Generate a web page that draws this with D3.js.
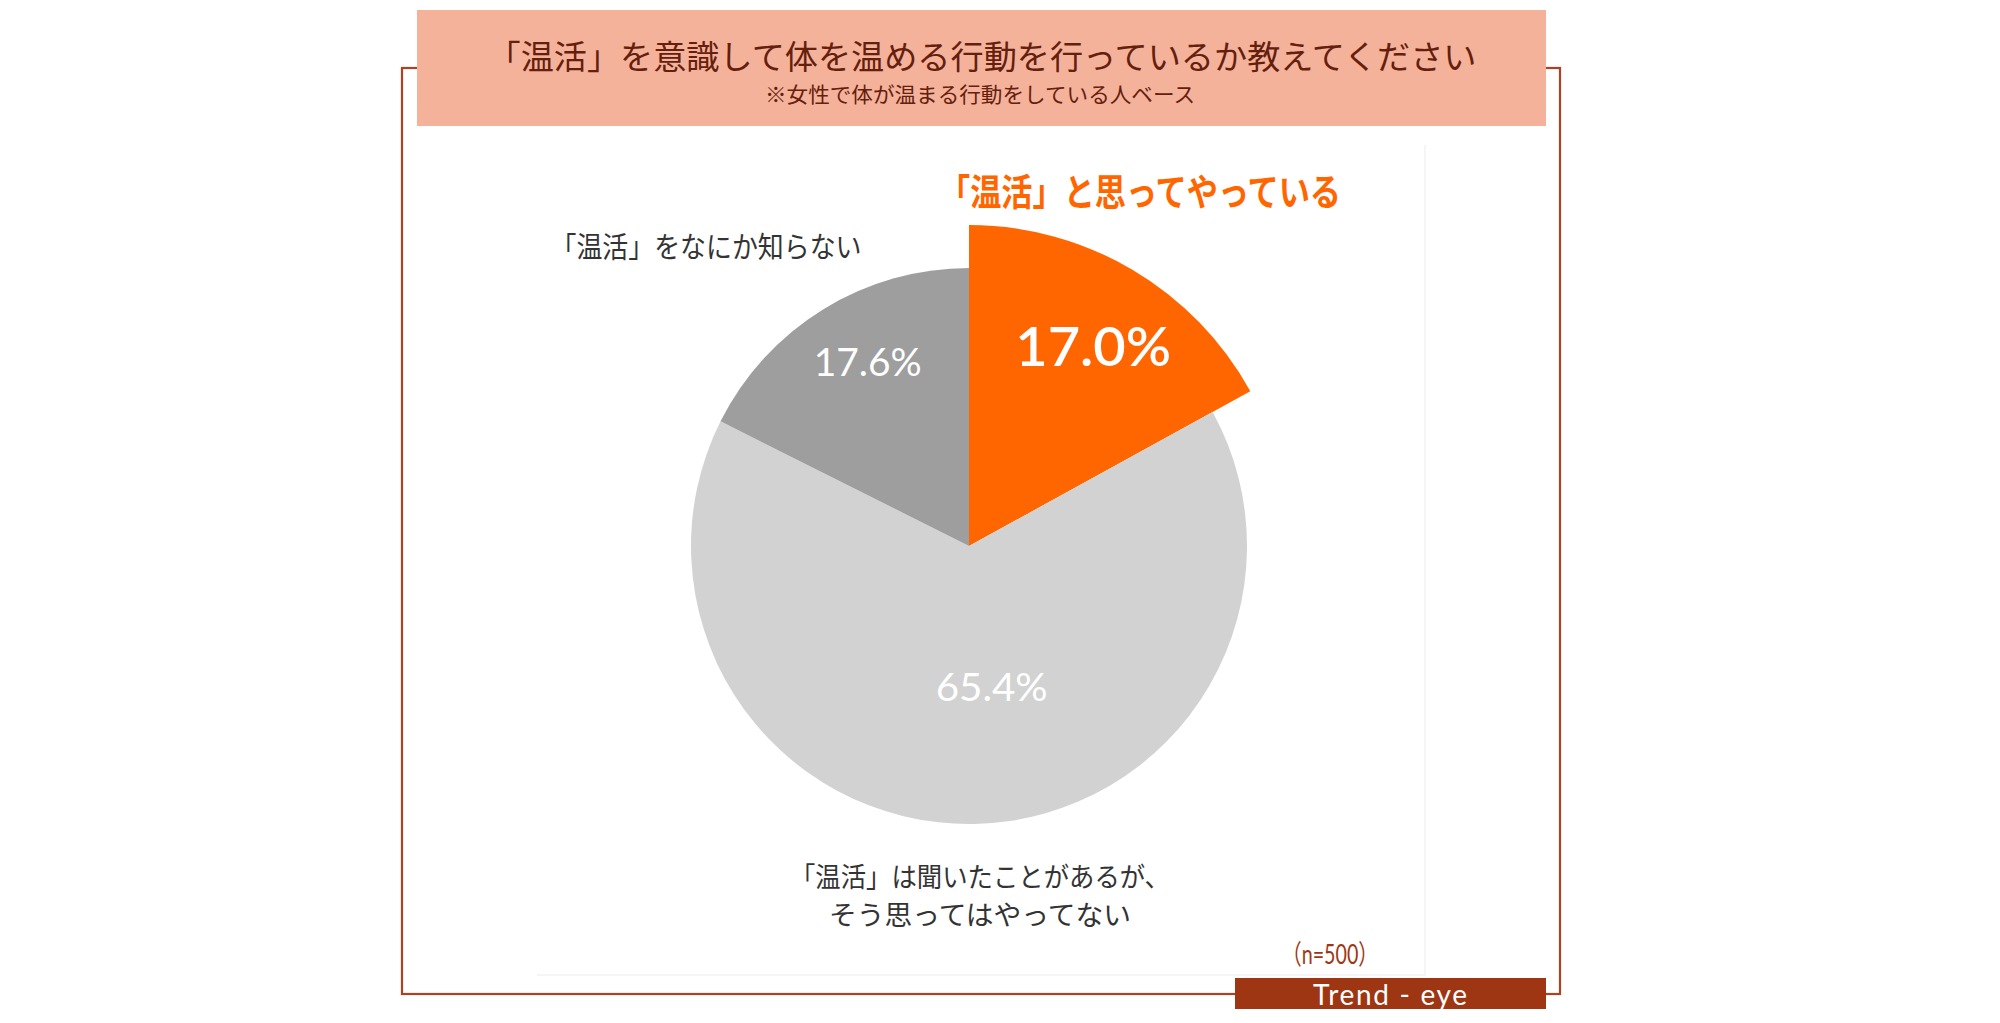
<!DOCTYPE html>
<html><head><meta charset="utf-8">
<script src="https://cdn.jsdelivr.net/npm/d3@7"></script>
<style>body{margin:0;background:#fff;overflow:hidden} svg{display:block}</style>
</head><body>
<script>
// ---- data ----
const categories = ["「温活」と思ってやっている", "「温活」は聞いたことがあるが、\nそう思ってはやってない", "「温活」をなにか知らない"];
const values = [17.0, 65.4, 17.6];
const valueLabels = ["17.0%", "65.4%", "17.6%"];
const colors = ["#ff6600", "#d2d2d2", "#9e9e9e"];
const titleText = "「温活」を意識して体を温める行動を行っているか教えてください";
const subtitleText = "※女性で体が温まる行動をしている人ベース";
const sampleNote = "（n=500）";
const brandText = "Trend - eye";

// ---- layout ----
const W = 2000, H = 1023;
const JP = "'Noto Sans CJK JP','Noto Sans',sans-serif";
const NUM = "Lato,'Noto Sans',sans-serif";
const svg = d3.select("body").append("svg").attr("width", W).attr("height", H);

// outer frame
svg.append("rect").attr("x", 402).attr("y", 68).attr("width", 1158).attr("height", 926)
  .attr("fill", "none").attr("stroke", "#ad4222").attr("stroke-width", 2.2);
// faint plot area
svg.append("path").attr("d", "M537,975H1425V145").attr("fill", "none").attr("stroke", "#f2f2f2").attr("stroke-width", 1.5);

// title box
svg.append("rect").attr("x", 417).attr("y", 10).attr("width", 1129).attr("height", 116).attr("fill", "#f4b29b");
svg.append("text").attr("x", 982).attr("y", 55).attr("text-anchor", "middle").attr("dominant-baseline", "central")
  .attr("font-family", JP).attr("font-size", 33).attr("fill", "#64200c")
  .attr("textLength", 989).attr("lengthAdjust", "spacingAndGlyphs").text(titleText);
svg.append("text").attr("x", 980).attr("y", 93).attr("text-anchor", "middle").attr("dominant-baseline", "central")
  .attr("font-family", JP).attr("font-size", 21).attr("fill", "#64200c")
  .attr("textLength", 430).attr("lengthAdjust", "spacingAndGlyphs").text(subtitleText);

// pie
const cx = 969, cy = 546, R = 278, Rx = 321;
const pie = d3.pie().sort(null).value(d => d);
const arcs = pie(values);
const g = svg.append("g").attr("transform", `translate(${cx},${cy})`);
g.selectAll("path.slice").data(arcs).join("path").attr("class", "slice")
  .attr("d", (d, i) => d3.arc().innerRadius(0).outerRadius(i === 0 ? Rx : R)(d))
  .attr("fill", (d, i) => colors[i]);

// value labels
const labelR = [240, 140, 212];
const labelSize = [54, 38, 38];
const labelWeight = ["600", "400", "400"];
const labelLen = [156, 112, 108];
const nudgeX = [2, 20, 10];
const nudgeY = [6, 0, -5];
g.selectAll("text.val").data(arcs).join("text").attr("class", "val")
  .attr("transform", (d, i) => {
    const c = d3.arc().innerRadius(labelR[i]).outerRadius(labelR[i]).centroid(d);
    return `translate(${c[0] + nudgeX[i]},${c[1] + nudgeY[i]})`;
  })
  .attr("text-anchor", "middle").attr("dominant-baseline", "central")
  .attr("font-family", NUM).attr("font-size", (d, i) => labelSize[i]).attr("font-weight", (d, i) => labelWeight[i])
  .attr("textLength", (d, i) => labelLen[i]).attr("lengthAdjust", "spacingAndGlyphs")
  .attr("fill", "#ffffff").text((d, i) => valueLabels[i]);

// category labels
svg.append("text").attr("x", 1140).attr("y", 190).attr("text-anchor", "middle").attr("dominant-baseline", "central")
  .attr("font-family", JP).attr("font-size", 37).attr("font-weight", "bold").attr("fill", "#ff6600")
  .attr("textLength", 402).attr("lengthAdjust", "spacingAndGlyphs").text(categories[0]);
svg.append("text").attr("x", 706).attr("y", 245).attr("text-anchor", "middle").attr("dominant-baseline", "central")
  .attr("font-family", JP).attr("font-size", 29).attr("fill", "#333333")
  .attr("textLength", 311).attr("lengthAdjust", "spacingAndGlyphs").text(categories[2]);
const lines = categories[1].split("\n");
const lineLen = [380, 302];
lines.forEach((t, i) => {
  svg.append("text").attr("x", 980).attr("y", 875 + i * 38).attr("text-anchor", "middle").attr("dominant-baseline", "central")
    .attr("font-family", JP).attr("font-size", 27).attr("fill", "#333333")
    .attr("textLength", lineLen[i]).attr("lengthAdjust", "spacingAndGlyphs").text(t);
});

// sample note
svg.append("text").attr("x", 1330).attr("y", 953).attr("text-anchor", "middle").attr("dominant-baseline", "central")
  .attr("font-family", NUM + ",'Noto Sans CJK JP'").attr("font-size", 27).attr("fill", "#9e3613")
  .attr("textLength", 96).attr("lengthAdjust", "spacingAndGlyphs").text(sampleNote);

// brand box
svg.append("rect").attr("x", 1235).attr("y", 978).attr("width", 311).attr("height", 31).attr("fill", "#9e3613");
svg.append("text").attr("x", 1390).attr("y", 994).attr("text-anchor", "middle").attr("dominant-baseline", "central")
  .attr("font-family", NUM).attr("font-size", 28).attr("fill", "#ffffff")
  .attr("textLength", 154).attr("lengthAdjust", "spacing").text(brandText);
</script>
</body></html>
